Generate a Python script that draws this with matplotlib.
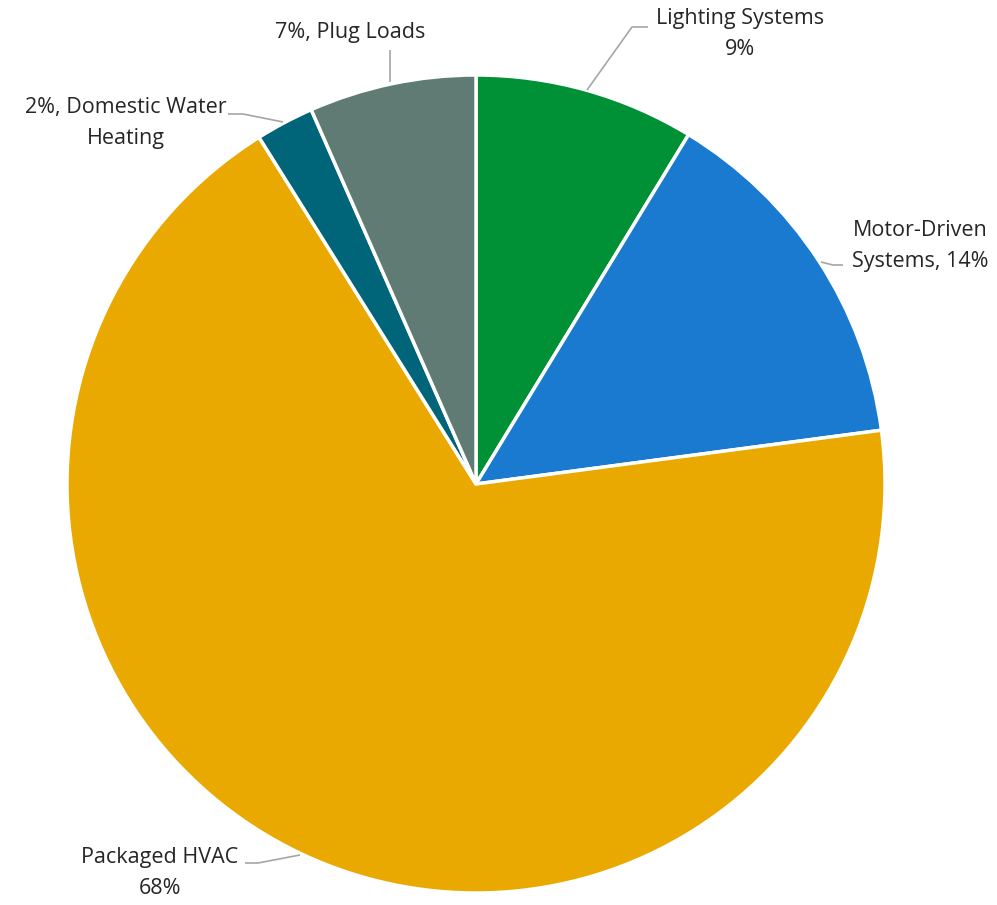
import matplotlib.pyplot as plt

# shares of energy use (%), clockwise from 12 o'clock
categories = ['Lighting Systems', 'Motor-Driven Systems', 'Packaged HVAC',
              'Domestic Water Heating', 'Plug Loads']
values = [8.7, 14.2, 68.2, 2.3, 6.6]
colors = ['#009036', '#1a7ad0', '#e9a900', '#006578', '#607b73']

W, H = 997, 905
fig = plt.figure(figsize=(W / 100, H / 100), dpi=100)
ax = fig.add_axes([0, 0, 1, 1])

cx, cy, r = 476, H - 484, 409
ax.pie(values, colors=colors, startangle=90, counterclock=False,
       center=(cx, cy), radius=r, frame=True,
       wedgeprops=dict(edgecolor='white', linewidth=2.5))
ax.set_xlim(0, W)
ax.set_ylim(0, H)
ax.set_aspect('equal')
ax.axis('off')

pct = [f'{round(v)}%' for v in values]
fs = 15.5
tc = '#262626'
lc = '#a6a6a6'


def label(x, y, s, ha='center'):
    ax.text(x, H - y, s, ha=ha, va='center', fontsize=fs, color=tc,
            family=['Open Sans', 'DejaVu Sans'], linespacing=1.65)


def leader(xs, ys):
    ax.plot(xs, [H - y for y in ys], color=lc, lw=1.2, solid_capstyle='butt')


label(740, 34, f'{categories[0]}\n{pct[0]}')
leader([648, 632, 587], [27, 27, 90])

label(920, 246, 'Motor-Driven\nSystems, ' + pct[1])
leader([843, 833, 821], [265, 265, 262])

label(160, 873, f'{categories[2]}\n{pct[2]}')
leader([245, 258, 300], [863, 863, 855])

label(126, 123, f'{pct[3]}, Domestic Water\nHeating')
leader([228, 243, 283], [114, 114, 122])

label(350, 33, f'{pct[4]}, {categories[4]}')
leader([390, 390], [50, 82])

fig.savefig('out.png', dpi=100)
